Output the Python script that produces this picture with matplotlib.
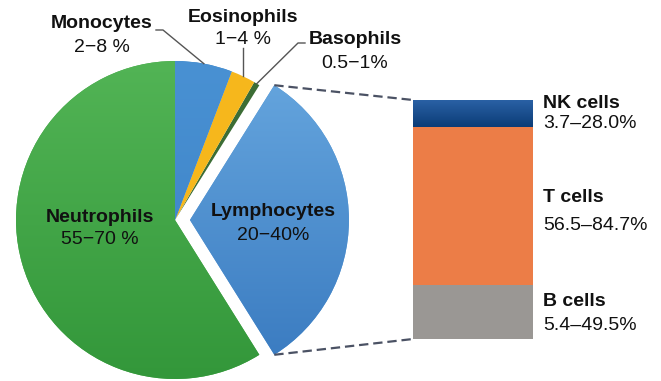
import numpy as np
import matplotlib
matplotlib.use("Agg")
import matplotlib.pyplot as plt
from matplotlib.colors import LinearSegmentedColormap

# ---------------- data ----------------
pie_labels = ["Lymphocytes", "Basophils", "Eosinophils", "Monocytes", "Neutrophils"]
pie_ranges = ["20\u221240%", "0.5\u22121%", "1\u22124 %", "2\u22128 %", "55\u221270 %"]
pie_shares = [32.2, 0.6, 2.5, 5.8, 58.9]          # drawn share of the circle (%)
pie_colors = ["#5b9bd6", "#3c6d35", "#f6b71c", "#3f86ca", "#46a94a"]

bar_labels = ["B cells", "T cells", "NK cells"]      # bottom -> top
bar_ranges = ["5.4\u201349.5%", "56.5\u201384.7%", "3.7\u201328.0%"]
bar_shares = [22.6, 66.1, 11.3]
bar_colors = ["#9a9794", "#ec7d47", "#1d4f8c"]

W, H = 661, 381
fig = plt.figure(figsize=(W / 100, H / 100), dpi=100)
ax = fig.add_axes([0, 0, 1, 1])

def P(x, y):
    """pixel position (from top-left) -> data coords"""
    return x, H - y

R = 159
cx, cy = P(175, 220)
explode = [0.094 * R, 0, 0, 0, 0]
start = -pie_shares[0] / 100 * 360 / 2

wedges, _ = ax.pie(pie_shares, colors=pie_colors, explode=explode, radius=R,
                   center=(cx, cy), startangle=start, counterclock=True,
                   wedgeprops=dict(linewidth=0))
ax.set_xlim(0, W)
ax.set_ylim(0, H)
ax.set_aspect("auto")
ax.axis("off")

def gradient(patch, top, bottom, ext):
    cmap = LinearSegmentedColormap.from_list("g", [bottom, top])
    grad = np.linspace(0, 1, 256).reshape(-1, 1)
    im = ax.imshow(grad, cmap=cmap, extent=ext, origin="lower",
                   aspect="auto", zorder=patch.get_zorder() + 0.1)
    im.set_clip_path(patch)

grads = {0: ("#67a7df", "#3879bf"), 4: ("#52b455", "#33973a"), 3: ("#4991d3", "#3b80c4")}
for i, (top, bot) in grads.items():
    w = wedges[i]
    wx, wy = w.center
    gradient(w, top, bot, (wx - R, wx + R, wy - R, wy + R))
ax.set_xlim(0, W)
ax.set_ylim(0, H)

# ---------------- labels on / around pie ----------------
FS = 14
fam = ["Liberation Sans", "DejaVu Sans"]

def two_line(x, y1, y2, name, rng, ha="center"):
    ax.text(*P(x, y1), name, ha=ha, va="center", fontsize=FS, fontweight="bold",
            family=fam, color="#111111", zorder=10)
    ax.text(*P(x, y2), rng, ha=ha, va="center", fontsize=FS,
            family=fam, color="#111111", zorder=10)

two_line(100, 217, 240, pie_labels[4], pie_ranges[4])
two_line(273, 212, 235, pie_labels[0], pie_ranges[0])
two_line(102, 23, 47, pie_labels[3], pie_ranges[3])
two_line(243, 17, 40, pie_labels[2], pie_ranges[2])
two_line(355, 40, 63, pie_labels[1], pie_ranges[1])

def edge_point(w, r_off=0.0):
    a = np.deg2rad((w.theta1 + w.theta2) / 2)
    return w.center[0] + (R + r_off) * np.cos(a), w.center[1] + (R + r_off) * np.sin(a)

lc = "#555555"
# Monocytes leader
mx, my = edge_point(wedges[3])
ax.plot([P(156, 30)[0], P(163, 30)[0], mx], [P(156, 30)[1], P(163, 30)[1], my],
        color=lc, lw=1, zorder=9)
# Eosinophils leader
ex, ey = edge_point(wedges[2])
ax.plot([ex, ex], [P(0, 48)[1], ey], color=lc, lw=1, zorder=9)
# Basophils leader
bx, by = edge_point(wedges[1])
ax.plot([P(305, 43)[0], P(298, 43)[0], bx], [P(305, 43)[1], P(298, 43)[1], by],
        color=lc, lw=1, zorder=9)

# ---------------- stacked bar ----------------
bl, bt, br, bb = 413, 100, 533, 339
bax = fig.add_axes([bl / W, (H - bb) / H, (br - bl) / W, (bb - bt) / H])
bottom = 0
bars = []
for s, c in zip(bar_shares, bar_colors):
    b = bax.bar(0, s, bottom=bottom, width=1, color=c, linewidth=0)
    bars.append(b[0])
    bottom += s
bax.set_xlim(-0.5, 0.5)
bax.set_ylim(0, sum(bar_shares))
bax.axis("off")
nk = bars[2]
nk_grad = LinearSegmentedColormap.from_list("nk", ["#0b3c77", "#2b62a6"])
im = bax.imshow(np.linspace(0, 1, 64).reshape(-1, 1), cmap=nk_grad, origin="lower",
                extent=(-0.5, 0.5, nk.get_y(), nk.get_y() + nk.get_height()),
                aspect="auto", zorder=3)
im.set_clip_path(nk)
bax.set_xlim(-0.5, 0.5)
bax.set_ylim(0, sum(bar_shares))

# bar labels
two_line(543, 302, 325, bar_labels[0], bar_ranges[0], ha="left")
two_line(543, 197, 225, bar_labels[1], bar_ranges[1], ha="left")
two_line(543, 104, 124, bar_labels[2], bar_ranges[2], ha="left")

# ---------------- dashed connectors ----------------
lw_ = wedges[0]
lx, ly = lw_.center
a1, a2 = np.deg2rad(lw_.theta1), np.deg2rad(lw_.theta2)
top_c = (lx + R * np.cos(a2), ly + R * np.sin(a2))
bot_c = (lx + R * np.cos(a1), ly + R * np.sin(a1))
dc = "#4b5264"
ax.plot([top_c[0], P(bl, bt)[0]], [top_c[1], P(bl, bt)[1]], color=dc, lw=1.6,
        dashes=(4.2, 2.2), zorder=9)
ax.plot([bot_c[0], P(bl, bb)[0]], [bot_c[1], P(bl, bb)[1]], color=dc, lw=1.6,
        dashes=(4.2, 2.2), zorder=9)

fig.savefig("out.png", dpi=100)
